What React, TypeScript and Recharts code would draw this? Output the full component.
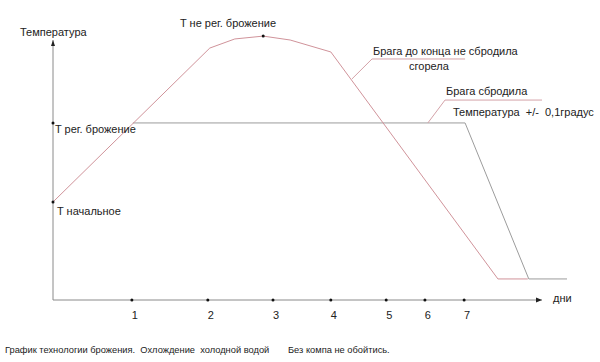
import React from "react";
import { LineChart, Line, XAxis, YAxis } from "recharts";

// Ось времени (условные единицы), положения отметок дней
const tickPos = [16.1, 31.6, 44.9, 56.7, 68.0, 75.9, 83.9];
const tickLabels = ["1", "2", "3", "4", "5", "6", "7"];

// Брага до конца не сбродила (красная кривая)
const redX = [0, 32.0, 37.1, 42.9, 48.4, 56.7, 90.8, 96.9];
const redY = [37.7, 96.9, 100.4, 101.5, 100.0, 95.4, 8.1, 8.1];

// Брага сбродила (серая кривая, регулируемое брожение)
const grayX = [16.3, 84.1, 97.1, 104.9];
const grayY = [68.1, 68.1, 8.1, 8.1];

// Выноски
const leader1X = [61.0, 65.1, 84.1];
const leader1Y = [85.0, 92.7, 92.7];
const leader2X = [76.5, 80.0, 99.8];
const leader2Y = [68.1, 76.9, 76.9];

// Уровни температуры на оси
const tStart = 37.7;
const tReg = 68.1;
const peakX = 42.9;
const peakY = 101.5;

const xAxisEnd = 99.8;
const yAxisEnd = 100;

const zip = (xs: number[], ys: number[]) => xs.map((x, i) => ({ x, y: ys[i] }));

const redData = zip(redX, redY);
const grayData = zip(grayX, grayY);
const leader1 = zip(leader1X, leader1Y);
const leader2 = zip(leader2X, leader2Y);
const tickDots = tickPos.map((x) => ({ x, y: 0 }));
const levelDots = [
  { x: 0, y: tStart },
  { x: 0, y: tReg },
  { x: peakX, y: peakY },
];
const xAxisData = [
  { x: 0, y: 0 },
  { x: xAxisEnd, y: 0 },
];
const yAxisData = [
  { x: 0, y: 0 },
  { x: 0, y: yAxisEnd },
];

const FONT = "'Liberation Sans', Arial, sans-serif";
const AXIS = "#8a8a8a";

const arrowRight = (len: number) => (props: any) => {
  const { cx, cy, index } = props;
  if (index !== len - 1) return <g key={index} />;
  return (
    <polygon
      key={index}
      points={`${cx},${cy} ${cx - 6},${cy - 2.5} ${cx - 6},${cy + 2.5}`}
      fill="#222"
    />
  );
};

const arrowUp = (len: number) => (props: any) => {
  const { cx, cy, index } = props;
  if (index !== len - 1) return <g key={index} />;
  return (
    <polygon
      key={index}
      points={`${cx},${cy} ${cx - 2},${cy + 6} ${cx + 2},${cy + 6}`}
      fill="#222"
    />
  );
};

const Tick = (props: any) => {
  const { x, y, payload } = props;
  const i = tickPos.indexOf(payload.value);
  return (
    <text
      x={x + 3}
      y={y}
      dy="0.71em"
      textAnchor="middle"
      fontFamily={FONT}
      fontSize={11}
      fill="#222"
    >
      {tickLabels[i]}
    </text>
  );
};

const T = ({ x, y, children, size = 11 }: any) => (
  <text
    x={x}
    y={y}
    fontFamily={FONT}
    fontSize={size}
    fill="#222"
    style={{ whiteSpace: "pre" }}
  >
    {children}
  </text>
);

export default function App() {
  return (
    <div style={{ position: "absolute", left: 0, top: 0, width: 600, height: 362, background: "#fff" }}>
      <LineChart
        width={600}
        height={362}
        margin={{ top: 14, right: 8, bottom: 32, left: 53 }}
      >
        <XAxis
          type="number"
          dataKey="x"
          domain={[0, 110]}
          ticks={tickPos}
          axisLine={false}
          tickLine={false}
          tick={<Tick />}
          tickMargin={5}
          height={30}
          interval={0}
        />
        <YAxis type="number" dataKey="y" domain={[0, 110]} hide width={0} />
        <Line
          data={xAxisData}
          dataKey="y"
          stroke={AXIS}
          strokeWidth={1}
          dot={arrowRight(xAxisData.length)}
          isAnimationActive={false}
        />
        <Line
          data={yAxisData}
          dataKey="y"
          stroke={AXIS}
          strokeWidth={1}
          dot={arrowUp(yAxisData.length)}
          isAnimationActive={false}
        />
        <Line
          data={grayData}
          dataKey="y"
          stroke="#9c9c9c"
          strokeWidth={1}
          dot={false}
          isAnimationActive={false}
        />
        <Line
          data={redData}
          dataKey="y"
          stroke="#d0939a"
          strokeWidth={1}
          dot={false}
          isAnimationActive={false}
        />
        <Line
          data={leader1}
          dataKey="y"
          stroke="#d4a2a8"
          strokeWidth={1}
          dot={false}
          isAnimationActive={false}
        />
        <Line
          data={leader2}
          dataKey="y"
          stroke="#d4a2a8"
          strokeWidth={1}
          dot={false}
          isAnimationActive={false}
        />
        <Line
          data={tickDots}
          dataKey="y"
          stroke="none"
          dot={{ r: 1.5, fill: "#111", stroke: "none" }}
          isAnimationActive={false}
        />
        <Line
          data={levelDots}
          dataKey="y"
          stroke="none"
          dot={{ r: 1.5, fill: "#111", stroke: "none" }}
          isAnimationActive={false}
        />
      </LineChart>
      <svg
        width={600}
        height={362}
        style={{ position: "absolute", left: 0, top: 0, pointerEvents: "none" }}
      >
        <T x={20} y={36}>Температура</T>
        <T x={180} y={27}>T не рег. брожение</T>
        <T x={55} y={133}>T рег. брожение</T>
        <T x={57} y={215}>T начальное</T>
        <T x={373} y={55}>Брага до конца не сбродила</T>
        <T x={409} y={70}>сгорела</T>
        <T x={446} y={95}>Брага сбродила</T>
        <T x={453} y={116}>{"Температура  +/-  0,1градус"}</T>
        <T x={553} y={302}>дни</T>
        <T x={5} y={353} size={9.3}>{"График технологии брожения.  Охлождение  холодной водой"}</T>
        <T x={288} y={353} size={9.3}>Без компа не обойтись.</T>
      </svg>
    </div>
  );
}
